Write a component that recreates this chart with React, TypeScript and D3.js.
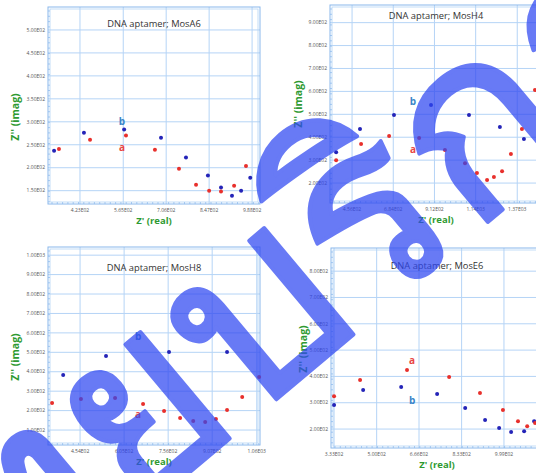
import React from "react";
import * as d3 from "d3";

// ---------------- data ----------------
const titles = [
  "DNA aptamer; MosA6",
  "DNA aptamer; MosH4",
  "DNA aptamer; MosH8",
  "DNA aptamer; MosE6",
];

// MosA6
const a6XDomain = [318, 1014];
const a6YDomain = [121, 550];
const a6XTicks = [423, 565, 706, 847, 988];
const a6XTickLabels = ["4.23E02", "5.65E02", "7.06E02", "8.47E02", "9.88E02"];
const a6YTicks = [150, 200, 250, 300, 350, 400, 450, 500];
const a6YTickLabels = ["1.50E02", "2.00E02", "2.50E02", "3.00E02", "3.50E02", "4.00E02", "4.50E02", "5.00E02"];
const a6RealA = [354, 456, 574, 669, 748, 804, 847, 886, 929, 968];
const a6ImagA = [241, 261, 270, 239, 198, 163, 150, 148, 161, 204];
const a6RealB = [338, 436, 568, 689, 771, 843, 886, 922, 952, 982];
const a6ImagB = [237, 276, 283, 265, 222, 183, 157, 139, 150, 178];
const a6LabelA = [561, 243];
const a6LabelB = [561, 300];

// MosH4
const h4XDomain = [334, 1507];
const h4YDomain = [113, 977];
const h4XTicks = [456, 684, 912, 1140, 1370];
const h4XTickLabels = ["4.56E02", "6.84E02", "9.12E02", "1.14E03", "1.37E03"];
const h4YTicks = [200, 300, 400, 500, 600, 700, 800, 900];
const h4YTickLabels = ["2.00E02", "3.00E02", "4.00E02", "5.00E02", "6.00E02", "7.00E02", "8.00E02", "9.00E02"];
const h4RealA = [368, 506, 661, 827, 970, 1081, 1147, 1203, 1241, 1286, 1335, 1396, 1468];
const h4ImagA = [300, 370, 405, 397, 344, 287, 244, 213, 226, 252, 327, 436, 606];
const h4RealB = [368, 500, 688, 893, 1103, 1274, 1407];
const h4ImagB = [335, 436, 497, 541, 497, 445, 392];
const h4LabelA = [793, 348];
const h4LabelB = [793, 554];

// MosH8
const h8XDomain = [344, 1071];
const h8YDomain = [23, 1042];
const h8XTicks = [454, 605, 756, 907, 1060];
const h8XTickLabels = ["4.54E02", "6.05E02", "7.56E02", "9.07E02", "1.06E03"];
const h8YTicks = [100, 200, 300, 400, 500, 600, 700, 800, 900, 1000];
const h8YTickLabels = ["1.00E02", "2.00E02", "3.00E02", "4.00E02", "5.00E02", "6.00E02", "7.00E02", "8.00E02", "9.00E02", "1.00E03"];
const h8RealA = [358, 457, 574, 670, 742, 797, 842, 883, 920, 958, 1010, 1068];
const h8ImagA = [239, 260, 265, 234, 198, 162, 146, 141, 157, 203, 270, 373];
const h8RealB = [396, 543, 759, 958];
const h8ImagB = [383, 481, 502, 502];
const h8LabelA = [653, 182];
const h8LabelB = [653, 579];

// MosE6
const e6XDomain = [321, 1152];
const e6YDomain = [128, 888];
const e6XTicks = [333, 500, 666, 833, 999];
const e6XTickLabels = ["3.33E02", "5.00E02", "6.66E02", "8.33E02", "9.99E02"];
const e6YTicks = [200, 300, 400, 500, 600, 700, 800];
const e6YTickLabels = ["2.00E02", "3.00E02", "4.00E02", "5.00E02", "6.00E02", "7.00E02", "8.00E02"];
const e6RealA = [333, 435, 619, 784, 905, 995, 1054, 1090, 1121];
const e6ImagA = [325, 386, 424, 398, 337, 272, 230, 211, 223];
const e6RealB = [333, 447, 596, 737, 847, 925, 980, 1027, 1078, 1117];
const e6ImagB = [291, 348, 360, 333, 280, 234, 204, 189, 192, 230];
const e6LabelA = [639, 462];
const e6LabelB = [639, 310];

const xLabel = "Z' (real)";
const yLabel = "Z'' (imag)";
const watermark = "วิทยบริการ";

// ---------------- layout ----------------
const W = 536;
const H = 473;
const layouts = [
  { left: 48, top: 7, width: 212, height: 197, titleDy: 20, yLabelX: 15, yLabelY: 117 },
  { left: 330, top: 5, width: 212, height: 198, titleDy: 14, yLabelX: 298, yLabelY: 104 },
  { left: 48, top: 247, width: 212, height: 198, titleDy: 24, yLabelX: 15, yLabelY: 357 },
  { left: 331, top: 248, width: 212, height: 200, titleDy: 21, yLabelX: 303, yLabelY: 349 },
];

const panels = [
  { xDomain: a6XDomain, yDomain: a6YDomain, xTicks: a6XTicks, xTickLabels: a6XTickLabels, yTicks: a6YTicks, yTickLabels: a6YTickLabels, realA: a6RealA, imagA: a6ImagA, realB: a6RealB, imagB: a6ImagB, labelA: a6LabelA, labelB: a6LabelB },
  { xDomain: h4XDomain, yDomain: h4YDomain, xTicks: h4XTicks, xTickLabels: h4XTickLabels, yTicks: h4YTicks, yTickLabels: h4YTickLabels, realA: h4RealA, imagA: h4ImagA, realB: h4RealB, imagB: h4ImagB, labelA: h4LabelA, labelB: h4LabelB },
  { xDomain: h8XDomain, yDomain: h8YDomain, xTicks: h8XTicks, xTickLabels: h8XTickLabels, yTicks: h8YTicks, yTickLabels: h8YTickLabels, realA: h8RealA, imagA: h8ImagA, realB: h8RealB, imagB: h8ImagB, labelA: h8LabelA, labelB: h8LabelB },
  { xDomain: e6XDomain, yDomain: e6YDomain, xTicks: e6XTicks, xTickLabels: e6XTickLabels, yTicks: e6YTicks, yTickLabels: e6YTickLabels, realA: e6RealA, imagA: e6ImagA, realB: e6RealB, imagB: e6ImagB, labelA: e6LabelA, labelB: e6LabelB },
];

const FONT = "'Open Sans', 'Noto Sans', Arial, sans-serif";
const GRID = "#b5d4f6";
const FRAME = "#8ab8ec";
const RED = "#e8302c";
const BLUE = "#2424b8";
const GREEN = "#2f9a32";

function Panel({ p, l, title }: any) {
  const x = d3.scaleLinear().domain(p.xDomain).range([l.left, l.left + l.width]);
  const y = d3.scaleLinear().domain(p.yDomain).range([l.top + l.height, l.top]);
  const bottom = l.top + l.height;
  const right = l.left + l.width;
  const minorX = d3.range(l.left + 4, right, 5.3);
  const minorY = d3.range(l.top + 4, bottom, 5.3);
  return (
    <g>
      <rect x={l.left} y={l.top} width={l.width} height={l.height} fill="#fff" />
      {p.xTicks.map((t: number, i: number) => (
        <line key={"gx" + i} x1={x(t)} x2={x(t)} y1={l.top} y2={bottom} stroke={GRID} strokeWidth={1} />
      ))}
      {p.yTicks.map((t: number, i: number) => (
        <line key={"gy" + i} x1={l.left} x2={right} y1={y(t)} y2={y(t)} stroke={GRID} strokeWidth={1} />
      ))}
      <rect x={l.left} y={l.top} width={l.width} height={l.height} fill="none" stroke={FRAME} strokeWidth={1} />
      <rect x={l.left + 2} y={l.top + 2} width={l.width - 4} height={l.height - 4} fill="none" stroke={GRID} strokeWidth={0.8} />
      {minorY.map((v: number, i: number) => (
        <line key={"my" + i} x1={l.left} x2={l.left + 2} y1={v} y2={v} stroke={FRAME} strokeWidth={0.7} />
      ))}
      {minorX.map((v: number, i: number) => (
        <line key={"mx" + i} x1={v} x2={v} y1={bottom - 2} y2={bottom} stroke={FRAME} strokeWidth={0.7} />
      ))}
      {p.yTicks.map((t: number, i: number) => (
        <text key={"ty" + i} x={l.left - 3} y={y(t)} dy="0.35em" textAnchor="end" fontSize={5} fill="#555" fontFamily={FONT}>
          {p.yTickLabels[i]}
        </text>
      ))}
      {p.xTicks.map((t: number, i: number) => (
        <text key={"tx" + i} x={x(t)} y={bottom + 8} textAnchor="middle" fontSize={5} fill="#555" fontFamily={FONT}>
          {p.xTickLabels[i]}
        </text>
      ))}
      <text x={(l.left + right) / 2} y={l.top + l.titleDy} textAnchor="middle" fontSize={9.3} fill="#333" fontFamily={FONT}>
        {title}
      </text>
      {p.realB.map((v: number, i: number) => (
        <circle key={"b" + i} cx={x(v)} cy={y(p.imagB[i])} r={2} fill={BLUE} />
      ))}
      {p.realA.map((v: number, i: number) => (
        <circle key={"a" + i} cx={x(v)} cy={y(p.imagA[i])} r={2} fill={RED} />
      ))}
      <text x={x(p.labelB[0])} y={y(p.labelB[1])} dy="0.35em" textAnchor="middle" fontSize={10} fontWeight="bold" fill="#3b86c8" fontFamily={FONT}>b</text>
      <text x={x(p.labelA[0])} y={y(p.labelA[1])} dy="0.35em" textAnchor="middle" fontSize={10} fontWeight="bold" fill="#e84545" fontFamily={FONT}>a</text>
      <text x={(l.left + right) / 2} y={bottom + 20} textAnchor="middle" fontSize={9.5} fontWeight="bold" fill={GREEN} fontFamily={FONT}>
        {xLabel}
      </text>
      <text transform={`translate(${l.yLabelX},${l.yLabelY}) rotate(-90)`} dy="0.35em" textAnchor="middle" fontSize={10.5} fontWeight="bold" fill={GREEN} fontFamily={FONT}>
        {yLabel}
      </text>
    </g>
  );
}

export default function App() {
  return (
    <svg width={W} height={H} style={{ position: "absolute", left: 0, top: 0, background: "#fff" }}>
      <rect width={W} height={H} fill="#fff" />
      {panels.map((p, i) => (
        <Panel key={i} p={p} l={layouts[i]} title={titles[i]} />
      ))}
      <g opacity={0.72}>
        <text
          transform="translate(292,272) rotate(-40)"
          textAnchor="middle"
          dy="0.35em"
          fontSize={250}
          fontWeight="normal"
          fill="#2f47f2"
          stroke="#2f47f2"
          strokeWidth={4}
          strokeLinejoin="round"
          fontFamily="Loma, Garuda, Norasi, 'Noto Serif Thai', 'Noto Sans Thai', sans-serif"
        >
          {watermark}
        </text>
      </g>
    </svg>
  );
}
